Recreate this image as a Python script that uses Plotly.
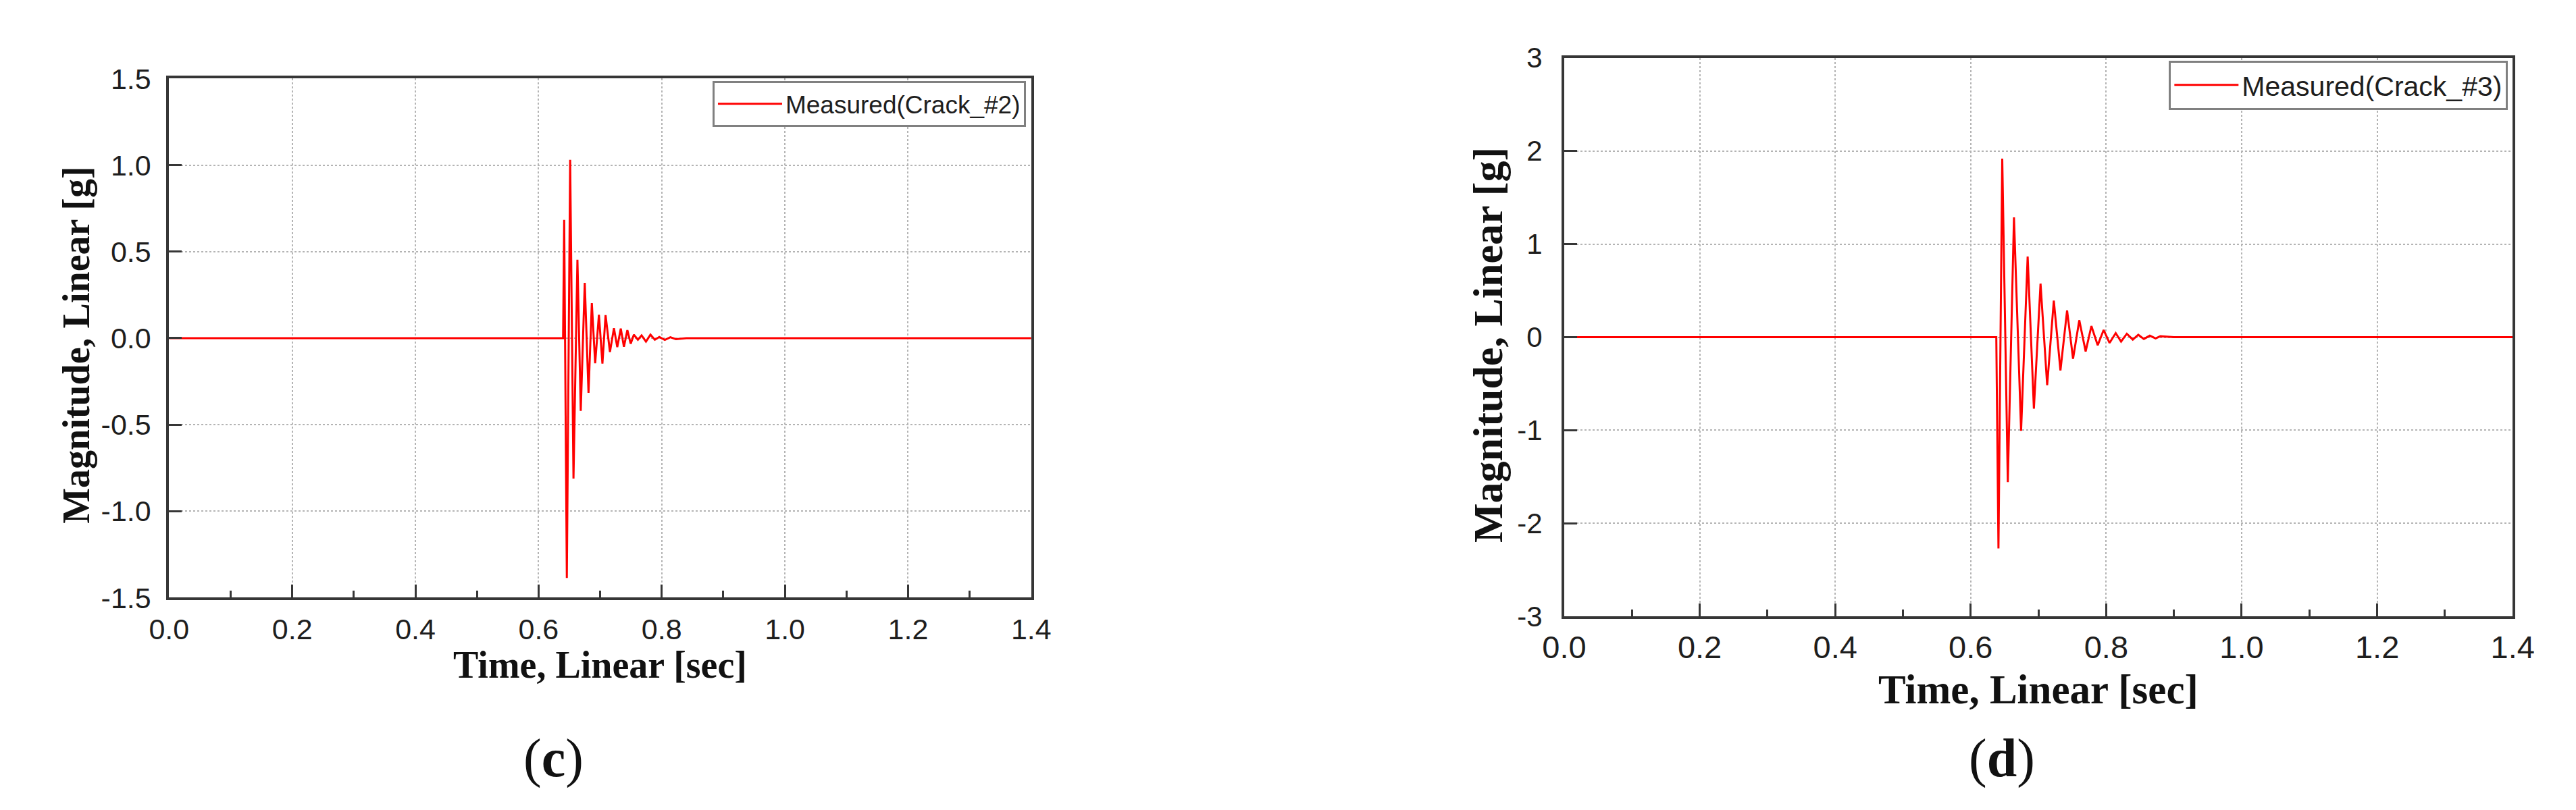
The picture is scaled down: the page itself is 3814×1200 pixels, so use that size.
import plotly.graph_objects as go

W, H = 3814, 1200

# (c) Measured(Crack_#2): peaks and troughs
time_c = [0.0, 0.6398, 0.6416, 0.6459, 0.6513, 0.6567, 0.6631, 0.6685, 0.6750,
          0.6811, 0.6865, 0.6919, 0.6980, 0.7037, 0.7088, 0.7159, 0.7224, 0.7278,
          0.7335, 0.7386, 0.7442, 0.7496, 0.7548, 0.7613, 0.7673, 0.7744, 0.7817,
          0.7888, 0.7961, 0.8050, 0.8140, 0.8230, 0.8400, 1.4]
accel_c = [0.0, 0.0, 0.684, -1.386, 1.031, -0.812, 0.453, -0.420, 0.320,
           -0.316, 0.202, -0.145, 0.135, -0.147, 0.133, -0.080, 0.057, -0.052,
           0.055, -0.050, 0.046, -0.032, 0.020, -0.009, 0.016, -0.020, 0.020,
           -0.009, 0.007, -0.010, 0.005, -0.006, 0.0, 0.0]

# (d) Measured(Crack_#3)
time_d = [0.0, 0.6378, 0.6410, 0.6466, 0.6548, 0.6639, 0.6744, 0.6841, 0.6933,
          0.7031, 0.7129, 0.7227, 0.7325, 0.7423, 0.7511, 0.7603, 0.7697, 0.7782,
          0.7875, 0.7963, 0.8050, 0.8141, 0.8220, 0.8305, 0.8393, 0.8474, 0.8556,
          0.8644, 0.8730, 0.8800, 0.9000, 1.4]
accel_d = [0.0, 0.0, -2.269, 1.918, -1.557, 1.286, -1.005, 0.867, -0.768,
           0.575, -0.515, 0.393, -0.357, 0.287, -0.232, 0.182, -0.153, 0.120,
           -0.087, 0.078, -0.062, 0.044, -0.047, 0.037, -0.026, 0.026, -0.019,
           0.016, -0.014, 0.010, 0.0, 0.0]

y_ticks_c = [1.5, 1.0, 0.5, 0.0, -0.5, -1.0, -1.5]
y_ticktext_c = ['1.5', '1.0', '0.5', '0.0', '-0.5', '-1.0', '-1.5']
y_ticks_d = [3, 2, 1, 0, -1, -2, -3]
y_ticktext_d = ['3', '2', '1', '0', '-1', '-2', '-3']

SANS = 'Liberation Sans, Arial, sans-serif'
SERIF = 'Liberation Serif, Times New Roman, serif'
AXIS_COLOR = '#363636'


def px_x(p):
    return p / W


def px_y(p):
    return 1 - p / H


def base_axis(domain, size, anchor):
    return dict(domain=domain, anchor=anchor, showline=True, linewidth=4,
                linecolor=AXIS_COLOR, mirror=True, ticks='inside', ticklen=19,
                tickwidth=3, tickcolor=AXIS_COLOR, showgrid=True,
                gridcolor='#b4b4b4', gridwidth=2, griddash='dot',
                zeroline=False,
                tickfont=dict(family=SANS, size=size, color='#1e1e1e'))


def x_axis(domain, size, anchor, standoff):
    ax = base_axis(domain, size, anchor)
    ax.update(range=[0, 1.4], tickmode='linear', tick0=0, dtick=0.2,
              tickformat='.1f', ticklabelstandoff=standoff,
              minor=dict(ticks='inside', ticklen=10, tickwidth=3,
                         tickcolor=AXIS_COLOR, dtick=0.1, showgrid=False))
    return ax


def y_axis(domain, size, anchor, ticks, text, rng, standoff):
    ax = base_axis(domain, size, anchor)
    ax.update(range=rng, tickmode='array', tickvals=ticks, ticktext=text,
              ticklabelstandoff=standoff)
    return ax


def legend_box(right, top, size):
    return dict(x=px_x(right), y=px_y(top), xanchor='right', yanchor='top',
                bgcolor='white', bordercolor='#808080', borderwidth=3,
                itemwidth=95, font=dict(family=SANS, size=size, color='#1e1e1e'))


def label(text, x, y, size, angle=0):
    return dict(text=text, x=px_x(x), y=px_y(y), xref='paper', yref='paper',
                showarrow=False, textangle=angle, xanchor='center',
                yanchor='middle', font=dict(family=SERIF, size=size, color='#111'))


def build_figure() -> go.Figure:
    fig = go.Figure()
    fig.add_trace(go.Scatter(x=time_c, y=accel_c, mode='lines',
                             name='Measured(Crack_#2)', xaxis='x', yaxis='y',
                             line=dict(color='#ff0000', width=3),
                             legend='legend'))
    fig.add_trace(go.Scatter(x=time_d, y=accel_d, mode='lines',
                             name='Measured(Crack_#3)', xaxis='x2', yaxis='y2',
                             line=dict(color='#ff0000', width=3),
                             legend='legend2'))
    fig.update_layout(
        width=W, height=H, margin=dict(l=0, r=0, t=0, b=0),
        paper_bgcolor='white', plot_bgcolor='white', showlegend=True,
        xaxis=x_axis([px_x(213), px_x(1512)], 43, 'y', 6),
        yaxis=y_axis([px_y(889), px_y(88)], 43, 'x', y_ticks_c, y_ticktext_c,
                     [-1.5, 1.5], 14),
        xaxis2=x_axis([px_x(2315), px_x(3744)], 47, 'y2', 1),
        yaxis2=y_axis([px_y(918), px_y(56)], 42, 'x2', y_ticks_d, y_ticktext_d,
                      [-3, 3], 20),
        legend=legend_box(1504, 92, 37),
        legend2=legend_box(3737, 60, 41),
        annotations=[
            label('<b>Time, Linear [sec]</b>', 862, 993, 56),
            label('<b>Magnitude, Linear [g]</b>', 73, 499, 56, -90),
            label('(<b>c</b>)', 792, 1137, 80),
            label('<b>Time, Linear [sec]</b>', 3029, 1031, 61),
            label('<b>Magnitude, Linear [g]</b>', 2200, 499, 62, -90),
            label('(<b>d</b>)', 2974, 1137, 80),
        ])
    return fig


fig = build_figure()
fig.write_html("out.html")
